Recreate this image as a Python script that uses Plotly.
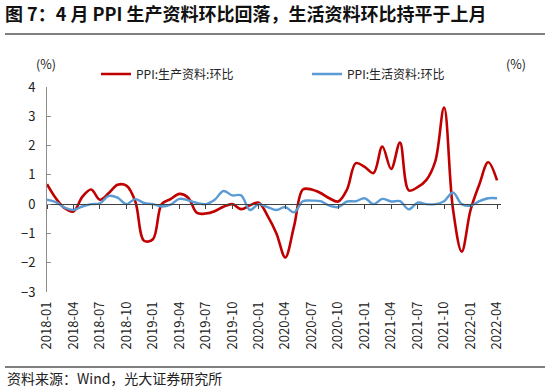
import pandas as pd
import plotly.graph_objects as go

months = [d.strftime("%Y-%m") for d in pd.date_range("2018-01-01", "2022-04-01", freq="MS")]
tick_labels = months[::3]

prod_mom = [0.68, 0.2, -0.14, -0.25, 0.25, 0.5, 0.15, 0.38, 0.66, 0.63,
            0.1, -1.25, -1.2, 0.0, 0.17, 0.35, 0.22, -0.3, -0.32, -0.24,
            -0.09, 0.0, -0.17, -0.04, 0.05, -0.4, -1.0, -1.82, -0.75, 0.5,
            0.5, 0.38, 0.2, 0.09, 0.5, 1.4, 1.27, 1.06, 1.97, 1.2,
            2.1, 0.47, 0.58, 0.83, 1.46, 3.3, -0.15, -1.62, -0.2, 0.68,
            1.43, 0.81]
life_mom = [0.15, 0.07, -0.12, -0.2, -0.08, 0.0, 0.03, 0.28, 0.22, 0.0,
            0.17, 0.04, 0.0, -0.08, -0.02, 0.18, 0.13, 0.04, 0.0, 0.15,
            0.45, 0.3, 0.3, -0.2, 0.0, -0.1, -0.2, -0.1, -0.28, 0.1,
            0.12, 0.1, -0.05, -0.1, 0.09, 0.1, 0.2, 0.0, 0.18, 0.09,
            0.1, -0.18, 0.05, 0.0, 0.0, 0.1, 0.4, 0.0, -0.05, 0.1,
            0.2, 0.2]

name_prod = "PPI:生产资料:环比"
name_life = "PPI:生活资料:环比"
title = "图 7：4 月 PPI 生产资料环比回落，生活资料环比持平于上月"
source = "资料来源：Wind，光大证券研究所"

FONT = "Noto Sans CJK SC"
W, H = 550, 388
L, R, T, B = 47, 501, 87, 292
xr = [0, 51.45]
yr = [-3, 4]

def px(x):
    return (x - L) / (R - L)

def py(y):
    return (B - y) / (B - T)

fig = go.Figure()
fig.add_trace(go.Scatter(x=months, y=prod_mom, name=name_prod, mode="lines",
                         xaxis="x", yaxis="y",
                         line=dict(color="#C00000", width=2.6, shape="spline", smoothing=1.0)))
fig.add_trace(go.Scatter(x=months, y=life_mom, name=name_life, mode="lines",
                         xaxis="x2", yaxis="y",
                         line=dict(color="#5B9BD5", width=2.4, shape="spline", smoothing=1.0)))

fig.update_layout(
    width=W, height=H,
    margin=dict(l=L, r=W - R, t=T, b=H - B, autoexpand=False),
    paper_bgcolor="white", plot_bgcolor="white",
    font=dict(family=FONT, size=13, color="#222"),
    showlegend=True,
    legend=dict(orientation="h", x=px(96), y=py(74), xanchor="left", yanchor="middle",
                font=dict(size=12, color="#222"), entrywidth=166, entrywidthmode="pixels",
                bgcolor="rgba(0,0,0,0)", itemwidth=30, traceorder="normal"),
    title=dict(text=title, x=5 / W, xanchor="left", xref="container",
               y=1 - 15 / H, yanchor="middle", yref="container",
               font=dict(family=FONT, size=18, color="#111", weight="bold")),
    # axis drawn as the zero line with tick marks
    xaxis=dict(type="category", range=xr, anchor="free", position=3 / 7,
               tickmode="array", tickvals=tick_labels, showticklabels=False,
               showline=True, linecolor="#404040", linewidth=1.3,
               ticks="outside", ticklen=4, tickcolor="#404040",
               showgrid=False, zeroline=False, automargin=False),
    # label axis at the bottom
    xaxis2=dict(type="category", overlaying="x", anchor="y", side="bottom", range=xr,
                tickmode="array", tickvals=tick_labels, ticktext=tick_labels,
                tickangle=-90, showline=False, ticks="", showgrid=False,
                zeroline=False, ticklabelstandoff=6, automargin=False,
                tickfont=dict(size=13, color="#222")),
    yaxis=dict(range=yr, dtick=1, showgrid=False, zeroline=False,
               showline=True, linecolor="#8c8c8c", linewidth=1,
               ticks="inside", ticklen=4, tickcolor="#8c8c8c", automargin=False,
               ticklabelstandoff=8, tickfont=dict(size=13, color="#222")),
    yaxis2=dict(range=yr, dtick=1, overlaying="y", side="right", anchor="x",
                showgrid=False, zeroline=False, automargin=False,
                showline=True, linecolor="#8c8c8c", linewidth=1,
                ticks="inside", ticklen=4, tickcolor="#8c8c8c",
                ticklabelstandoff=15, tickfont=dict(size=13, color="#222")),
)

fig.add_annotation(text="(%)", xref="paper", yref="paper", x=px(46), y=py(64),
                   xanchor="center", yanchor="middle",
                   showarrow=False, font=dict(size=12.5, color="#222"))
fig.add_annotation(text="(%)", xref="paper", yref="paper", x=px(516), y=py(64),
                   xanchor="center", yanchor="middle",
                   showarrow=False, font=dict(size=12.5, color="#222"))
fig.add_annotation(text=source, xref="paper", yref="paper", x=px(5), y=py(378),
                   xanchor="left", yanchor="middle", showarrow=False,
                   font=dict(size=14, color="#222"))

for yline in (34, 367):
    fig.add_shape(type="line", xref="paper", yref="paper", x0=px(5), x1=px(545),
                  y0=py(yline), y1=py(yline), line=dict(color="#555", width=1.3))

fig.write_html("out.html", post_script="document.body.style.margin='0';",
               config={"displayModeBar": False})
